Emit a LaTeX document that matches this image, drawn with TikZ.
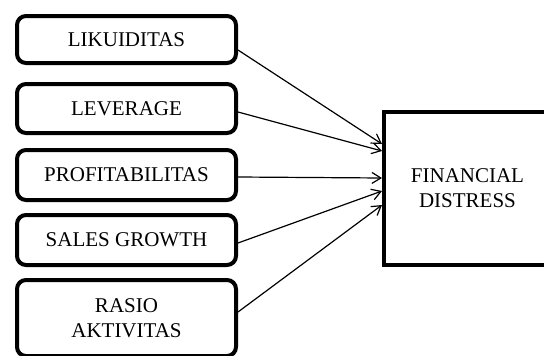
\documentclass[tikz,border=0pt]{standalone}
\usepackage{fontspec}
\setmainfont{Liberation Serif}
\usetikzlibrary{positioning,arrows.meta}

\begin{document}
\begin{tikzpicture}[
    x=1pt, y=-1pt,
    font=\fontsize{21}{25}\selectfont,
    var/.style={draw,line width=4pt,rounded corners=9pt,align=center,
        inner sep=0pt,minimum width=219pt},
    target/.style={draw,line width=4pt,align=center,inner sep=0pt,
        minimum width=167pt,minimum height=153pt},
    link/.style={draw,line width=1.2pt,-{Straight Barb[length=9pt,width=11pt]}}
]
\useasboundingbox (0,0) rectangle (544,356);

% independent variables
\node[var,minimum height=47pt] (lik) at (126.5,39.5) {LIKUIDITAS};
\node[var,minimum height=49pt] (lev) at (126.5,108.5) {LEVERAGE};
\node[var,minimum height=50pt] (prof) at (126.5,175) {PROFITABILITAS};
\node[var,minimum height=50pt] (sales) at (126.5,240) {SALES GROWTH};
\node[var,minimum height=76pt] (akt) at (126.5,318) {RASIO\\AKTIVITAS};

% dependent variable
\node[target] (fd) at (467.5,188.5) {FINANCIAL\\DISTRESS};

\draw[link] ([yshift=-10.5pt]lik.east) -- ([yshift=44.5pt]fd.west);
\draw[link] ([yshift=-3.5pt]lev.east) -- ([yshift=37.5pt]fd.west);
\draw[link] ([yshift=-2pt]prof.east) -- ([yshift=10.5pt]fd.west);
\draw[link] ([yshift=-3pt]sales.east) -- ([yshift=-2.5pt]fd.west);
\draw[link] ([yshift=6pt]akt.east) -- ([yshift=-16.5pt]fd.west);

\end{tikzpicture}
\end{document}
